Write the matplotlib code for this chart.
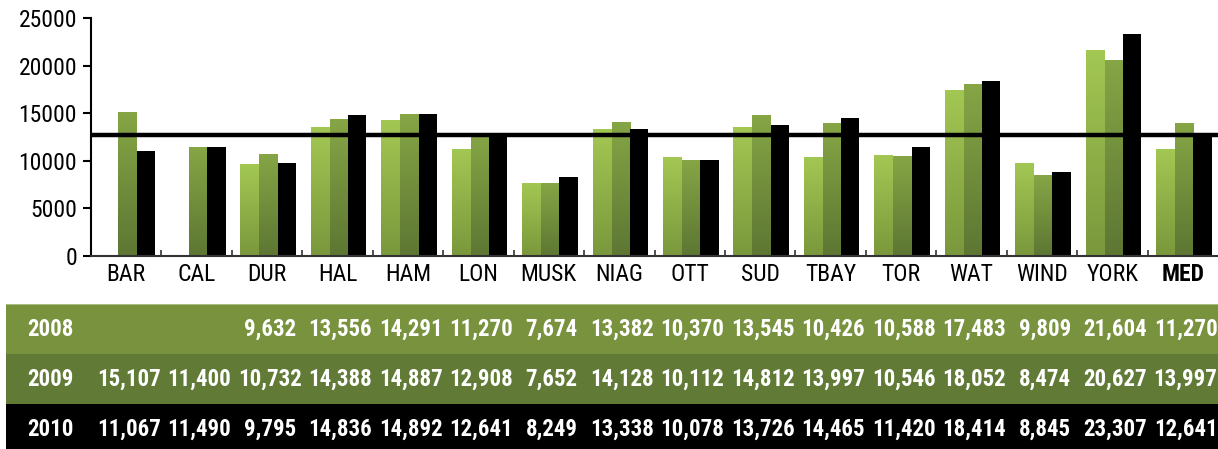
import numpy as np
import matplotlib
matplotlib.use("Agg")
import matplotlib.pyplot as plt
from matplotlib.colors import LinearSegmentedColormap
from matplotlib.patches import Rectangle

# data
regions = ["BAR", "CAL", "DUR", "HAL", "HAM", "LON", "MUSK", "NIAG", "OTT",
           "SUD", "TBAY", "TOR", "WAT", "WIND", "YORK", "MED"]
years = ["2008", "2009", "2010"]
v2008 = [None, None, 9632, 13556, 14291, 11270, 7674, 13382, 10370,
         13545, 10426, 10588, 17483, 9809, 21604, 11270]
v2009 = [15107, 11400, 10732, 14388, 14887, 12908, 7652, 14128, 10112,
         14812, 13997, 10546, 18052, 8474, 20627, 13997]
v2010 = [11067, 11490, 9795, 14836, 14892, 12641, 8249, 13338, 10078,
         13726, 14465, 11420, 18414, 8845, 23307, 12641]
median_line = 12750
yticks = [0, 5000, 10000, 15000, 20000, 25000]

plt.rcParams["font.family"] = ["Roboto Condensed", "DejaVu Sans"]

W, H = 1218, 449
fig = plt.figure(figsize=(W / 100, H / 100), dpi=100)
ax = fig.add_axes([91 / W, 1 - 256 / H, 1 - 91 / W, (256 - 18) / H])

x = np.arange(len(regions))
offsets = [-0.25, 0.02, 0.28]
bw = 0.26
grads = [
    LinearSegmentedColormap.from_list("g08", ["#7a983c", "#a3c753"]),
    LinearSegmentedColormap.from_list("g09", ["#5d7733", "#86a545"]),
]
series = [v2008, v2009, v2010]
grad = np.linspace(0, 1, 64).reshape(-1, 1)

for k, vals in enumerate(series):
    h = [np.nan if v is None else v for v in vals]
    if k == 2:
        ax.bar(x + offsets[k], h, bw, color="black", zorder=2)
        continue
    bars = ax.bar(x + offsets[k], h, bw, color="none", zorder=2)
    for b in bars:
        if np.isnan(b.get_height()):
            continue
        bx, by, bwid, bh = b.get_x(), b.get_y(), b.get_width(), b.get_height()
        im = ax.imshow(grad, extent=[bx, bx + bwid, by, by + bh], origin="lower",
                       aspect="auto", cmap=grads[k], zorder=2)
        im.set_clip_path(b)

ax.axhline(median_line, color="black", lw=3.2, zorder=3)

ax.set_xlim(-0.5, len(regions) - 0.5)
ax.set_ylim(0, 25000)
ax.set_yticks(yticks)
ax.set_yticklabels([str(t) for t in yticks], fontsize=17)
ax.set_xticks(x)
ax.set_xticklabels(regions, fontsize=17)
ax.get_xticklabels()[-1].set_fontweight("bold")
ax.set_xticks(np.arange(0.5, len(regions) - 1, 1), minor=True)
ax.tick_params(axis="x", which="major", length=0, pad=5)
ax.tick_params(axis="x", which="minor", direction="in", length=4, width=1.2, color="#333333")
ax.tick_params(axis="y", length=6, width=1.5, pad=4)
for s in ["top", "right"]:
    ax.spines[s].set_visible(False)
ax.spines["left"].set_linewidth(1.5)
ax.spines["bottom"].set_linewidth(1.5)
ax.spines["bottom"].set_color("#333333")

# table under the chart
tab = fig.add_axes([6 / W, 0, 1 - 6 / W, 145 / H])
group_px = (W - 91) / len(regions)
left_edge = -0.5 - (91 - 6) / group_px
tab.set_xlim(left_edge, len(regions) - 0.5)
tab.set_ylim(2.9, 0)
tab.axis("off")
row_colors = ["#78923d", "#617b37", "#000000"]
for r, (yr, vals) in enumerate(zip(years, series)):
    tab.add_patch(Rectangle((left_edge, r), len(regions) - 0.5 - left_edge, 1,
                            facecolor=row_colors[r], edgecolor="none"))
    tab.text(-0.5 - (91 - 27) / group_px, r + 0.51, yr, color="white",
             fontsize=16.5, fontweight="bold", ha="left", va="center")
    for i, v in enumerate(vals):
        if v is None:
            continue
        tab.text(i + 0.04, r + 0.51, f"{v:,}", color="white", fontsize=16.5,
                 fontweight="bold", ha="center", va="center")
tab.axhline(0, color="#a8bb80", lw=1.5)

fig.savefig("out.png", dpi=100)
